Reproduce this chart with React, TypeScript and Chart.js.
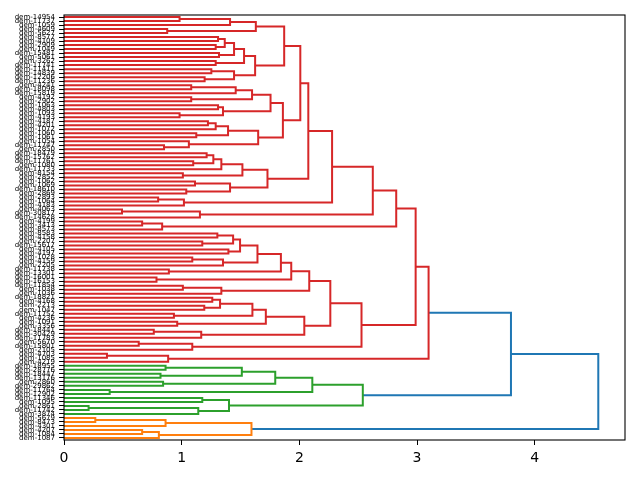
import React, { useEffect, useRef } from "react";
import { Chart, registerables } from "chart.js";

Chart.register(...registerables);

// Leaf labels, listed from top to bottom as they appear on the y axis
const leafLabels: string[] = [
  "dem-14954", "dem-11737", "dem-1059", "dem-4609", "dem-5627", "dem-8577", "dem-4109", "dem-2909", "dem-1049", "dem-15481",
  "dem-5061", "dem-3262", "dem-11741", "dem-11411", "dem-14839", "dem-12206", "dem-11236", "dem-4241", "dem-18098", "dem-15819",
  "dem-4192", "dem-2902", "dem-1063", "dem-4803", "dem-1093", "dem-4193", "dem-4187", "dem-4201", "dem-1072", "dem-1060",
  "dem-1061", "dem-1054", "dem-11747", "dem-2850", "dem-18479", "dem-15762", "dem-11761", "dem-1080", "dem-11733", "dem-8154",
  "dem-2852", "dem-1062", "dem-1069", "dem-18610", "dem-2869", "dem-2893", "dem-1064", "dem-4183", "dem-4063", "dem-30817",
  "dem-14628", "dem-4199", "dem-3413", "dem-8573", "dem-8583", "dem-4158", "dem-2207", "dem-15617", "dem-4105", "dem-4197",
  "dem-1028", "dem-4159", "dem-2205", "dem-11738", "dem-13301", "dem-16001", "dem-16153", "dem-11854", "dem-1038", "dem-1036",
  "dem-18821", "dem-4168", "dem-2213", "dem-1047", "dem-11752", "dem-4236", "dem-1091", "dem-3356", "dem-18441", "dem-30429",
  "dem-11783", "dem-5670", "dem-15801", "dem-2105", "dem-4703", "dem-1085", "dem-4219",
  "dem-18955", "dem-28776", "dem-18447", "dem-13176", "dem-2860", "dem-29862", "dem-11764", "dem-12902", "dem-11346", "dem-1095",
  "dem-2861", "dem-11742", "dem-3874",
  "dem-5679", "dem-8473", "dem-4301", "dem-4207", "dem-1084", "dem-1087",
];

// A merge is [left, right, height]; a number is a leaf index in leafLabels
type Node = number | [Node, Node, number];

const redA: Node = [[[0, 1, 0.982], 2, 1.411], [3, 4, 0.877], 1.63];
const redB: Node = [
  [[[[5, 6, 1.309], [7, 8, 1.289], 1.366], [9, 10, 1.317], 1.445], [11, 12, 1.289], 1.53],
  [[13, 14, 1.252], [15, 16, 1.195], 1.445],
  1.624,
];
const redC: Node = [
  [[[[17, 18, 1.081], 19, 1.459], [20, 21, 1.081], 1.598], [[22, 23, 1.309], [24, 25, 0.982], 1.351], 1.755],
  [[[[26, 27, 1.223], 28, 1.289], [29, 30, 1.124], 1.394], [31, [32, 33, 0.85], 1.061], 1.65],
  1.86,
];
const redD: Node = [
  [[[[34, 35, 1.212], [36, 37, 1.098], 1.269], 38, 1.337], [39, 40, 1.01], 1.516],
  [[41, 42, 1.113], [43, 44, 1.039], 1.411],
  1.729,
];
const redE: Node = [
  [[[[[redA, redB, 1.871], redC, 2.008], redD, 2.076], [[45, 46, 0.8], 47, 1.019], 2.278], [[48, 49, 0.493], 50, 1.155], 2.624],
  [[51, 52, 0.664], 53, 0.834],
  2.823,
];
const redF: Node = [
  [
    [[[[[54, 55, 1.303], [56, 57, 1.175], 1.437], [58, 59, 1.397], 1.496], [[60, 61, 1.09], 62, 1.351], 1.644], [63, 64, 0.891], 1.843],
    [65, 66, 0.786],
    1.931,
  ],
  [[67, 68, 1.01], 69, 1.337],
  2.084,
];
const redG: Node = [
  [[[[70, 71, 1.26], [72, 73, 1.192], 1.326], [74, 75, 0.934], 1.601], [76, 77, 0.962], 1.715],
  [[78, 79, 0.763], 80, 1.166],
  2.042,
];
const redTree: Node = [
  [redE, [[redF, redG, 2.263], [[81, 82, 0.635], 83, 1.09], 2.528], 2.988],
  [[84, 85, 0.365], 86, 0.885],
  3.098,
];
const greenTree: Node = [
  [[[[87, 88, 0.863], [89, 90, 0.82], 1.511], [91, 92, 0.842], 1.795], [93, 94, 0.388], 2.11],
  [[95, 96, 1.175], [[97, 98, 0.209], 99, 1.141], 1.402],
  2.539,
];
const orangeTree: Node = [[[100, 101, 0.266], 102, 0.863], [[103, 104, 0.664], 105, 0.806], 1.593];

// heights of the two links above the colour threshold
const upperHeights = [3.798, 4.54];
const xTickValues = [0, 1, 2, 3, 4];

const RED = "#d62728";
const GREEN = "#2ca02c";
const ORANGE = "#ff7f0e";
const BLUE = "#1f77b4";

type Seg = { pts: { x: number; y: number }[]; color: string };

function leafY(k: number) {
  return 10 * (leafLabels.length - 1 - k) + 5;
}

function layout(node: Node, color: string, segs: Seg[]): { y: number; h: number } {
  if (typeof node === "number") return { y: leafY(node), h: 0 };
  const [a, b, h] = node;
  const A = layout(a, color, segs);
  const B = layout(b, color, segs);
  segs.push({
    color,
    pts: [
      { x: A.h, y: A.y },
      { x: h, y: A.y },
      { x: h, y: B.y },
      { x: B.h, y: B.y },
    ],
  });
  return { y: (A.y + B.y) / 2, h };
}

function link(A: { y: number; h: number }, B: { y: number; h: number }, h: number, color: string, segs: Seg[]) {
  segs.push({
    color,
    pts: [
      { x: A.h, y: A.y },
      { x: h, y: A.y },
      { x: h, y: B.y },
      { x: B.h, y: B.y },
    ],
  });
  return { y: (A.y + B.y) / 2, h };
}

const framePlugin = {
  id: "frame",
  afterDatasetsDraw(chart: any) {
    const { ctx, chartArea } = chart;
    ctx.save();
    ctx.strokeStyle = "#000";
    ctx.lineWidth = 1.1;
    ctx.strokeRect(chartArea.left, chartArea.top, chartArea.right - chartArea.left, chartArea.bottom - chartArea.top);
    ctx.restore();
  },
};

export default function App() {
  const ref = useRef<HTMLCanvasElement | null>(null);

  useEffect(() => {
    if (!ref.current) return;
    const segs: Seg[] = [];
    const R = layout(redTree, RED, segs);
    const G = layout(greenTree, GREEN, segs);
    const O = layout(orangeTree, ORANGE, segs);
    const M = link(R, G, upperHeights[0], BLUE, segs);
    link(M, O, upperHeights[1], BLUE, segs);

    const xMax = upperHeights[1] * 1.05;
    const n = leafLabels.length;

    const chart = new Chart(ref.current, {
      type: "scatter",
      data: {
        datasets: segs.map((s) => ({
          data: s.pts,
          showLine: true,
          borderColor: s.color,
          backgroundColor: s.color,
          borderWidth: 2,
          pointRadius: 0,
          pointHoverRadius: 0,
          fill: false,
          tension: 0,
        })),
      },
      options: {
        responsive: false,
        animation: false,
        devicePixelRatio: 1,
        events: [],
        layout: { padding: { top: 15, right: 15, left: 0, bottom: 0 } },
        plugins: { legend: { display: false }, tooltip: { enabled: false } },
        scales: {
          x: {
            type: "linear",
            min: 0,
            max: xMax,
            afterBuildTicks: (ax: any) => {
              ax.ticks = xTickValues.map((v) => ({ value: v }));
            },
            afterFit: (s: any) => {
              s.height = 40;
            },
            grid: { drawOnChartArea: false, drawTicks: true, tickLength: 5, color: "#000", lineWidth: 1 },
            border: { display: false },
            ticks: {
              color: "#000",
              font: { family: "DejaVu Sans", size: 14 },
              padding: 5,
              maxRotation: 0,
              autoSkip: false,
              callback: (v: any) => String(v),
            },
          },
          y: {
            type: "linear",
            min: 0,
            max: n * 10,
            afterBuildTicks: (ax: any) => {
              ax.ticks = leafLabels.map((_, k) => ({ value: leafY(k) }));
            },
            afterFit: (s: any) => {
              s.width = 64;
            },
            grid: { drawOnChartArea: false, drawTicks: true, tickLength: 5, color: "#000", lineWidth: 1 },
            border: { display: false },
            ticks: {
              color: "#000",
              font: { family: "DejaVu Sans", size: 7 },
              padding: 4,
              autoSkip: false,
              callback: (v: any) => {
                const k = n - 1 - Math.round((Number(v) - 5) / 10);
                return leafLabels[k] ?? "";
              },
            },
          },
        },
      },
      plugins: [framePlugin],
    });
    return () => chart.destroy();
  }, []);

  return (
    <div style={{ position: "absolute", left: 0, top: 0, width: 640, height: 480, background: "#fff" }}>
      <canvas ref={ref} width={640} height={480} style={{ display: "block" }} />
    </div>
  );
}
